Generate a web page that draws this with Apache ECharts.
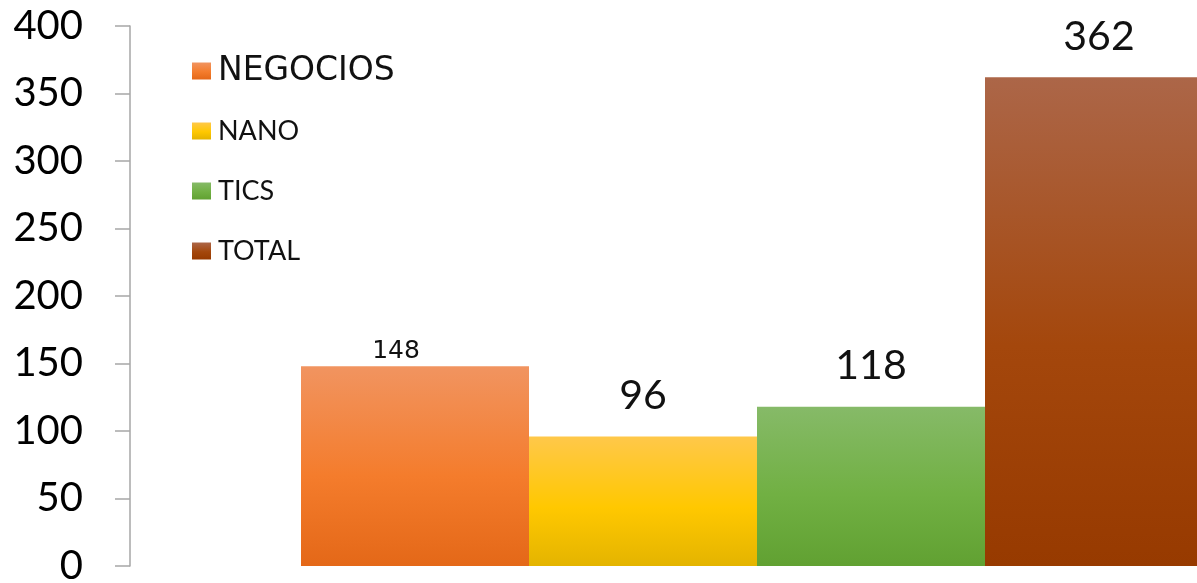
<!DOCTYPE html>
<html>
<head>
<meta charset="utf-8">
<script src="https://cdn.jsdelivr.net/npm/echarts@6/dist/echarts.min.js"></script>
<style>
html,body{margin:0;padding:0;background:#fff;}
#chart{width:1197px;height:583px;}
</style>
</head>
<body>
<div id="chart"></div>
<script>
const categories = [''];
const seriesNames = ['NEGOCIOS', 'NANO', 'TICS', 'TOTAL'];
const seriesValues = [148, 96, 118, 362];
const yTicks = { min: 0, max: 400, interval: 50 };

const gradients = [
  ['#F19460', '#F47C2C', '#E46818'],
  ['#FFC84A', '#FFC800', '#E4B400'],
  ['#86BA68', '#71B043', '#61A132'],
  ['#AC6648', '#A4470C', '#973A00']
];
function grad(c) {
  return { type: 'linear', x: 0, y: 0, x2: 0, y2: 1,
    colorStops: [{ offset: 0, color: c[0] }, { offset: 0.55, color: c[1] }, { offset: 1, color: c[2] }] };
}
const legendFonts = [
  { fontFamily: 'DejaVu Sans', fontSize: 33 },
  { fontFamily: 'Lato', fontSize: 27 },
  { fontFamily: 'Lato', fontSize: 27 },
  { fontFamily: 'Lato', fontSize: 27 }
];
const legendCenters = [71, 131, 191, 251];
const labelFonts = [
  { fontFamily: 'DejaVu Sans', fontSize: 25, distance: 2, offset: [-19, 0] },
  { fontFamily: 'Lato', fontSize: 41, distance: 20, offset: [0, 0] },
  { fontFamily: 'Lato', fontSize: 41, distance: 20, offset: [0, 0] },
  { fontFamily: 'Lato', fontSize: 41, distance: 20, offset: [0, 0] }
];

const chart = echarts.init(document.getElementById('chart'), null, { renderer: 'canvas' });
chart.setOption({
  animation: false,
  backgroundColor: '#ffffff',
  grid: { left: 130, top: 26, bottom: 17, right: -187, containLabel: false, outerBoundsMode: 'none' },
  legend: seriesNames.map((n, i) => ({
    data: [{ name: n, icon: 'rect' }],
    left: 192,
    top: legendCenters[i] - 17,
    itemWidth: 19,
    itemHeight: 17,
    itemGap: 7,
    padding: 0,
    textStyle: Object.assign({ color: '#111', lineHeight: 34, padding: [0, 0, 0, 2] }, legendFonts[i])
  })),
  xAxis: {
    type: 'category',
    data: categories,
    axisLine: { show: false },
    axisTick: { show: false },
    axisLabel: { show: false }
  },
  yAxis: {
    type: 'value',
    min: yTicks.min, max: yTicks.max, interval: yTicks.interval,
    splitLine: { show: false },
    axisLine: { show: true, lineStyle: { color: '#A6A6A6', width: 1.5 } },
    axisTick: { show: true, inside: false, length: 15, lineStyle: { color: '#A6A6A6', width: 1.5 } },
    axisLabel: { margin: 47, fontFamily: 'Lato', fontSize: 40, color: '#000' }
  },
  series: seriesNames.map((n, i) => ({
    name: n,
    type: 'bar',
    data: [seriesValues[i]],
    barWidth: 228,
    barGap: '0%',
    itemStyle: { color: grad(gradients[i]) },
    label: {
      show: true, position: 'top', color: '#111',
      fontFamily: labelFonts[i].fontFamily, fontSize: labelFonts[i].fontSize,
      distance: labelFonts[i].distance, offset: labelFonts[i].offset
    }
  }))
});
</script>
</body>
</html>
